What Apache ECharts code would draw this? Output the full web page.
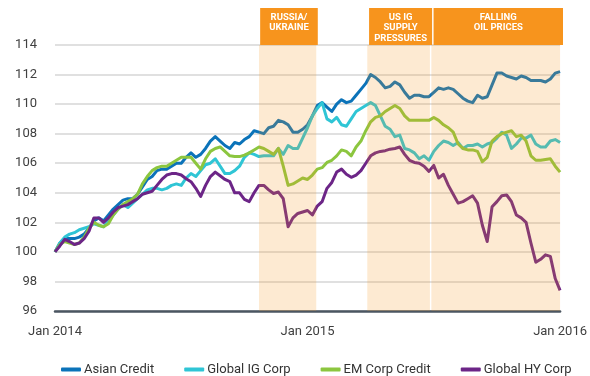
<!DOCTYPE html>
<html>
<head>
<meta charset="utf-8">
<script src="https://cdn.jsdelivr.net/npm/echarts@6/dist/echarts.min.js"></script>
<style>
  html, body { margin: 0; padding: 0; background: #fff; }
  #chart { width: 590px; height: 376px; }
</style>
</head>
<body>
<div id="chart"></div>
<script>
// weekly index values, Jan 2014 (week 0) to Jan 2016 (week 104)
var xTickLabels = ['Jan 2014', 'Jan 2015', 'Jan 2016'];
var seriesNames = ['Asian Credit', 'Global IG Corp', 'EM Corp Credit', 'Global HY Corp'];
var seriesColors = ['#0b73b9', '#2fc5d5', '#8cc63f', '#6c2587'];

var asianCredit = [
  100.0,100.6,100.9,100.9,100.9,101.0,101.2,101.6,102.1,102.3,
  102.1,102.5,102.9,103.2,103.5,103.6,103.6,103.9,104.4,104.9,
  105.1,105.5,105.6,105.6,105.8,106.0,106.0,106.4,106.7,106.4,
  106.6,107.0,107.5,107.8,107.5,107.2,107.0,107.4,107.3,107.6,
  107.8,108.2,108.1,108.0,108.4,108.5,108.9,108.8,108.6,108.1,
  108.1,108.3,108.6,109.2,109.9,110.1,109.8,109.5,110.0,110.3,
  110.1,110.2,110.6,111.0,111.4,112.0,111.8,111.5,111.1,111.2,
  111.5,111.3,110.8,110.4,110.6,110.6,110.5,110.5,110.8,111.1,
  111.0,111.1,111.0,110.7,110.4,110.2,110.1,110.6,110.4,110.5,
  111.3,112.1,112.1,111.9,111.8,111.7,111.9,111.8,111.6,111.6,
  111.6,111.5,111.7,112.1,112.2
];
var globalIG = [
  100.0,100.6,101.0,101.2,101.3,101.5,101.6,101.7,101.9,101.8,
  101.7,102.1,102.5,102.9,103.2,103.0,103.3,103.6,103.9,104.2,
  104.3,104.3,104.2,104.3,104.5,104.6,104.5,105.0,105.3,105.1,
  105.5,105.9,106.0,106.3,105.8,105.3,105.3,105.5,105.8,106.4,
  106.7,106.6,106.45,106.5,106.5,106.5,107.0,106.6,107.2,107.0,
  107.0,107.7,108.4,109.2,109.7,110.1,109.0,108.8,109.1,108.6,
  108.5,109.0,109.5,109.7,109.9,110.1,109.9,109.2,108.5,108.3,
  107.8,107.9,107.0,106.9,106.7,106.3,106.5,106.2,106.8,107.2,
  107.5,107.4,107.2,107.4,107.0,107.2,107.2,107.3,107.1,107.3,
  107.4,107.7,108.1,107.9,107.0,107.3,107.7,107.7,107.9,107.3,
  107.1,107.1,107.5,107.6,107.4
];
var emCorp = [
  100.0,100.5,100.7,100.6,100.5,100.6,101.0,101.6,102.0,101.8,
  101.7,101.9,102.5,102.9,103.2,103.4,103.6,103.9,104.6,105.1,
  105.5,105.7,105.8,105.8,106.0,106.2,106.4,106.4,106.4,106.0,
  105.6,106.3,106.8,107.0,107.1,106.8,106.5,106.45,106.45,106.55,
  106.7,106.9,107.1,107.0,106.8,106.6,107.0,105.8,104.5,104.6,
  104.8,105.0,104.9,105.2,105.6,105.7,106.05,106.2,106.5,106.9,
  106.8,106.5,107.1,107.5,108.2,108.8,109.1,109.2,109.5,109.7,
  109.9,109.7,109.2,108.9,108.9,108.9,108.9,108.9,109.1,108.9,
  108.6,108.4,108.1,107.3,107.0,106.9,106.9,106.8,106.1,106.4,
  107.5,107.8,108.0,108.1,108.2,107.8,107.9,107.5,106.5,106.2,
  106.2,106.25,106.3,105.8,105.4
];
var globalHY = [
  100.0,100.4,100.85,100.7,100.5,100.6,100.9,101.4,102.3,102.3,
  102.0,102.3,102.7,103.0,103.1,103.2,103.4,103.6,103.9,104.0,
  104.1,104.5,104.9,105.2,105.3,105.3,105.2,104.95,104.75,104.3,
  103.75,104.5,105.1,105.4,105.15,104.9,104.75,104.0,104.0,103.55,
  103.4,104.0,104.5,104.5,104.2,103.95,104.05,103.6,101.7,102.3,
  102.6,102.7,102.8,102.5,103.1,103.4,104.3,104.7,105.4,105.6,
  105.25,105.05,105.2,105.5,106.0,106.5,106.7,106.8,106.85,106.95,
  107.0,107.1,106.6,106.2,106.05,106.0,105.8,105.45,105.85,105.0,
  105.25,104.5,103.9,103.3,103.4,103.6,103.8,103.3,101.8,100.7,
  103.05,103.4,103.8,103.85,103.4,102.5,102.3,102.0,100.6,99.3,
  99.5,99.8,99.7,98.2,97.4
];

// highlighted periods, in weeks from Jan 2014
var periodLabels = ['RUSSIA/\nUKRAINE', 'US IG\nSUPPLY\nPRESSURES', 'FALLING\nOIL PRICES'];
var periodStart = [42, 64.3, 77.5];
var periodEnd = [53.8, 77.2, 104];

var allValues = [asianCredit, globalIG, emCorp, globalHY];

var chart = echarts.init(document.getElementById('chart'));
var font = 'Roboto, "Liberation Sans", sans-serif';

var series = allValues.map(function (vals, k) {
  return {
    name: seriesNames[k],
    type: 'line',
    xAxisIndex: 0,
    yAxisIndex: 0,
    showSymbol: false,
    symbol: 'none',
    z: 3,
    lineStyle: { width: 3, color: seriesColors[k], join: 'round' },
    itemStyle: { color: seriesColors[k] },
    data: vals.map(function (v, i) { return [i, v]; })
  };
});

// translucent shading drawn above the lines
series.push({
  name: 'shade',
  type: 'line',
  xAxisIndex: 0,
  yAxisIndex: 0,
  data: [],
  z: 10,
  silent: true,
  markArea: {
    silent: true,
    z: 10,
    itemStyle: { color: 'rgba(247,148,29,0.2)' },
    data: periodStart.map(function (s, k) {
      return [{ xAxis: s }, { xAxis: periodEnd[k] }];
    })
  }
});

// orange header boxes
series.push({
  name: 'headers',
  type: 'line',
  xAxisIndex: 1,
  yAxisIndex: 1,
  data: [],
  silent: true,
  markArea: {
    silent: true,
    itemStyle: { color: '#f7941d' },
    label: {
      show: true,
      position: 'insideTop',
      distance: 4,
      color: '#fff',
      fontFamily: font,
      fontWeight: 'bold',
      fontSize: 9.5,
      lineHeight: 10.5
    },
    data: periodStart.map(function (s, k) {
      return [{ xAxis: s, name: periodLabels[k] }, { xAxis: periodEnd[k] }];
    })
  }
});

chart.setOption({
  animation: false,
  backgroundColor: '#fff',
  textStyle: { fontFamily: font },
  grid: [
    { left: 55, right: 27, top: 45, bottom: 65 },
    { left: 55, right: 27, top: 8, height: 37 }
  ],
  legend: {
    data: seriesNames,
    top: 358,
    left: 56,
    itemGap: 30,
    itemWidth: 20,
    itemHeight: 4,
    icon: 'roundRect',
    textStyle: { fontSize: 13, color: '#333', fontFamily: font, padding: [0, 0, 0, -2] }
  },
  xAxis: [
    {
      gridIndex: 0,
      type: 'value',
      min: 0,
      max: 104,
      interval: 52,
      splitLine: { show: false },
      axisTick: { show: false },
      axisLine: { show: true, lineStyle: { color: '#4b5661', width: 2.5 } },
      axisLabel: {
        color: '#404040',
        fontSize: 13,
        margin: 14,
        formatter: function (v) { return xTickLabels[Math.round(v / 52)]; }
      }
    },
    { gridIndex: 1, type: 'value', min: 0, max: 104, show: false }
  ],
  yAxis: [
    {
      gridIndex: 0,
      type: 'value',
      min: 96,
      max: 114,
      interval: 2,
      axisLine: { show: false },
      axisTick: { show: false },
      splitLine: { lineStyle: { color: '#d6d6d6', width: 1.5 } },
      axisLabel: { color: '#404040', fontSize: 13, margin: 18 }
    },
    { gridIndex: 1, type: 'value', min: 0, max: 1, show: false }
  ],
  series: series
});
</script>
</body>
</html>
